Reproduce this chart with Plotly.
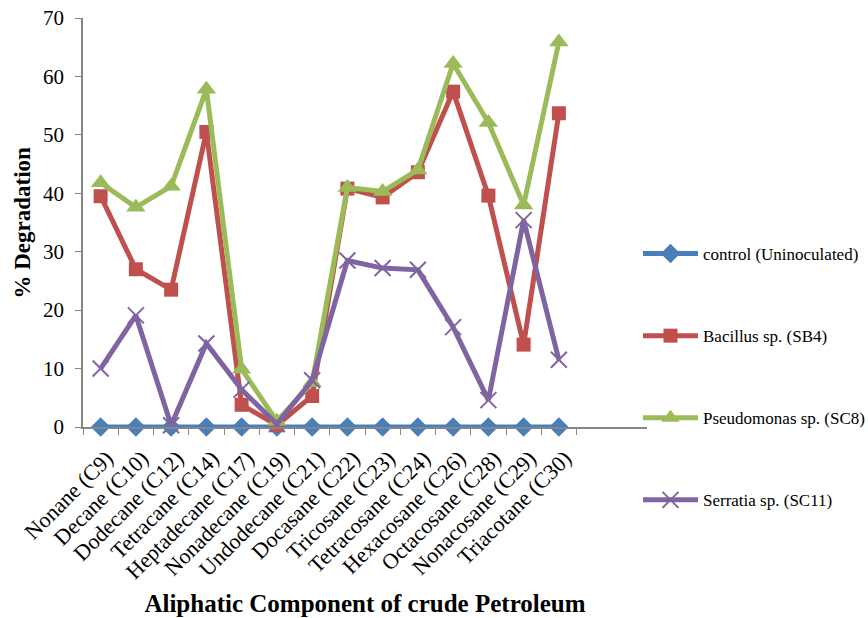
import plotly.graph_objects as go

categories = ["Nonane (C9)", "Decane (C10)", "Dodecane (C12)", "Tetracane (C14)",
              "Heptadecane (C17)", "Nonadecane (C19)", "Undodecane (C21)", "Docasane (C22)",
              "Tricosane (C23)", "Tetracosane (C24)", "Hexacosane (C26)", "Octacosane (C28)",
              "Nonacosane (C29)", "Triacotane (C30)"]
extra_slots = [" ", "  "]

control = [0, 0, 0, 0, 0, 0, 0, 0, 0, 0, 0, 0, 0, 0]
bacillus = [39.5, 27.0, 23.5, 50.5, 3.8, 0.3, 5.3, 40.8, 39.3, 43.6, 57.4, 39.6, 14.1, 53.7]
pseudomonas = [41.8, 37.6, 41.2, 57.8, 9.9, 1.0, 7.6, 41.0, 40.3, 44.0, 62.2, 52.1, 38.0, 65.9]
serratia = [10.0, 19.1, 0.3, 14.3, 6.4, 0.5, 8.0, 28.5, 27.2, 26.9, 17.1, 4.6, 35.4, 11.5]

series = [
    ("control (Uninoculated)", control, "#4A7EBB", "diamond", 15),
    ("Bacillus sp. (SB4)", bacillus, "#C0504D", "square", 14),
    ("Pseudomonas sp. (SC8)", pseudomonas, "#9BBB59", "triangle-up", 17),
    ("Serratia sp. (SC11)", serratia, "#8064A2", "x-thin-open", 16),
]

fig = go.Figure()
for i, (name, vals, color, sym, size) in enumerate(series):
    marker = dict(symbol=sym, size=size, color=color)
    if sym == "x-thin-open":
        marker["line"] = dict(color=color, width=2)
    fig.add_trace(go.Scatter(
        x=categories, y=vals, name=name, mode="lines+markers",
        line=dict(color=color, width=5), marker=marker,
        legendgroup="g%d" % i, cliponaxis=False,
    ))

font_family = "Liberation Serif, Times New Roman, serif"
W, H = 868, 618
L, R, T, B = 83, 221, 18, 191
plot_w = W - L - R

fig.update_layout(
    width=W, height=H,
    margin=dict(l=L, r=R, t=T, b=B, autoexpand=False),
    paper_bgcolor="white", plot_bgcolor="white",
    font=dict(family=font_family, color="black"),
    showlegend=True,
    legend=dict(xref="container", yref="container", x=638 / W, y=1 - 236 / H,
                xanchor="left", yanchor="top",
                font=dict(size=17, family=font_family),
                tracegroupgap=57, traceorder="grouped", itemwidth=55,
                bgcolor="rgba(0,0,0,0)"),
    xaxis=dict(
        type="category", categoryorder="array", categoryarray=categories + extra_slots,
        range=[-0.5, 15.5], tickvals=categories, tickangle=-45,
        tickfont=dict(size=22, family=font_family),
        ticklabelstandoff=8, ticklabelshift=6, ticklabeloverflow="allow",
        showline=True, linecolor="#868686", linewidth=1.5,
        ticks="outside", tickson="boundaries", ticklen=6, tickcolor="#868686",
        showgrid=False, zeroline=False, automargin=False,
        title=dict(text="<b>Aliphatic Component of crude Petroleum</b>",
                   font=dict(size=25, family=font_family), standoff=12),
    ),
    yaxis=dict(
        range=[0, 70], dtick=10, tickfont=dict(size=21, family=font_family),
        ticklabelstandoff=7, ticklabeloverflow="allow",
        showline=True, linecolor="#868686", linewidth=1.5,
        ticks="outside", ticklen=6, tickcolor="#868686",
        showgrid=False, zeroline=False, automargin=False,
    ),
    annotations=[dict(
        text="<b>% Degradation</b>", xref="paper", yref="paper",
        x=-(L - 22) / plot_w, y=0.5, xanchor="center", yanchor="middle",
        textangle=-90, showarrow=False, font=dict(size=23, family=font_family),
    )],
)

fig.write_html("out.html", config={"displayModeBar": False},
               post_script="document.body.style.margin='0';")
